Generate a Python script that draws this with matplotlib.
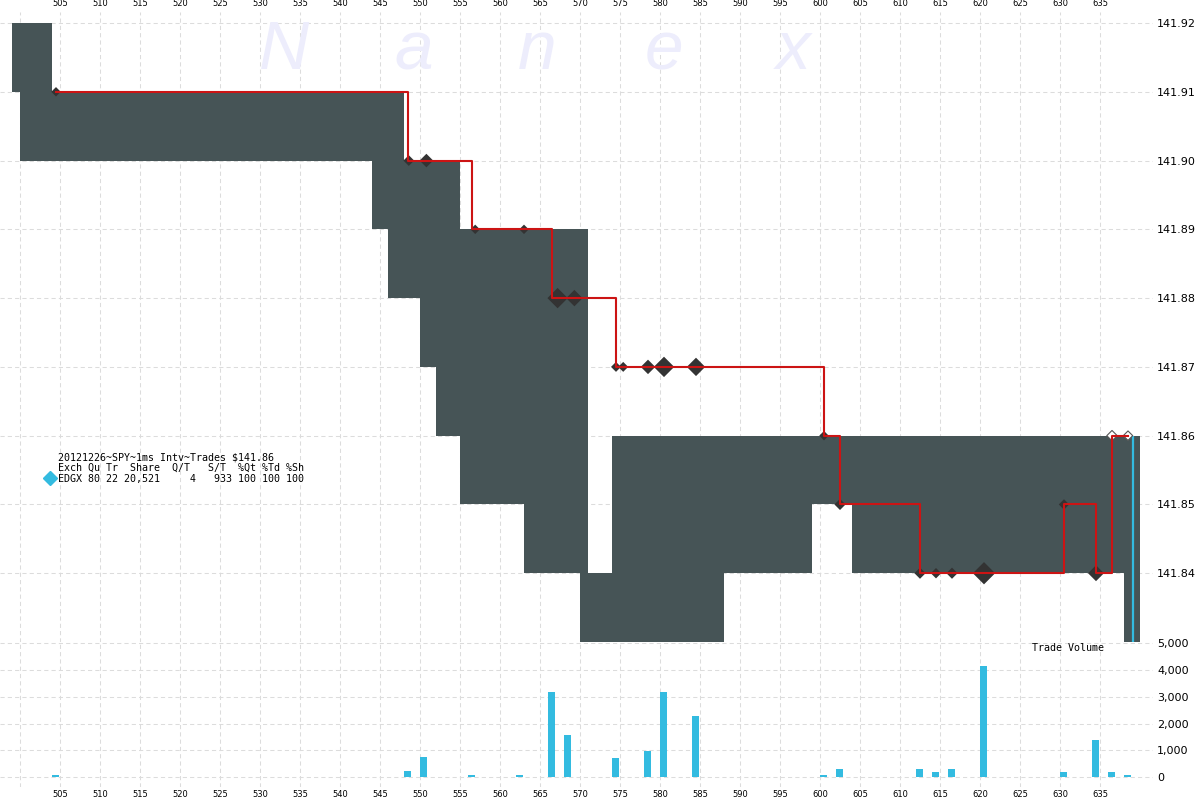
import matplotlib
matplotlib.use("Agg")
import matplotlib.pyplot as plt
import numpy as np

# ---- data ----
# quote band (time ms, low, high) step-post
band_t = [499, 500, 504, 544, 546, 548, 550, 552, 555, 563, 570, 571, 574, 588, 599, 604, 638, 640]
band_lo = [141.91, 141.90, 141.90, 141.89, 141.88, 141.88, 141.87, 141.86, 141.85, 141.84,
           141.83, 141.83, 141.83, 141.84, 141.85, 141.84, 141.83, 141.83]
band_hi = [141.92, 141.92, 141.91, 141.91, 141.91, 141.90, 141.90, 141.90, 141.89, 141.89,
           141.89, 141.84, 141.86, 141.86, 141.86, 141.86, 141.86, 141.86]

# trades per ms bucket
vol_t = [504, 548, 550, 556, 562, 566, 568, 574, 578, 580, 584, 600, 602, 612, 614, 616, 620, 630, 634, 636, 638]
vol_sh = [100, 240, 760, 100, 100, 3180, 1580, 720, 980, 3180, 2290, 100, 300, 300, 200, 300, 4150, 200, 1400, 200, 100]
trade_px = [141.91, 141.90, 141.90, 141.89, 141.89, 141.88, 141.88, 141.87, 141.87, 141.87, 141.87,
            141.86, 141.85, 141.84, 141.84, 141.84, 141.84, 141.85, 141.84, 141.86, 141.86]

# individual trade markers
mk_t = [504.5, 548.6, 550.8, 556.9, 563.0, 567.2, 569.3, 574.5, 575.4, 578.5, 580.5, 584.5,
        600.5, 602.5, 612.5, 614.5, 616.5, 620.5, 630.5, 634.5, 636.5, 638.5]
mk_px = [141.91, 141.90, 141.90, 141.89, 141.89, 141.88, 141.88, 141.87, 141.87, 141.87, 141.87, 141.87,
         141.86, 141.85, 141.84, 141.84, 141.84, 141.84, 141.85, 141.84, 141.86, 141.86]
mk_sh = [100, 240, 760, 100, 100, 3180, 1580, 150, 150, 980, 3180, 2290,
         100, 300, 300, 200, 300, 4150, 200, 1400, 200, 100]

edgx_quote_t = 639.1
edgx_quote_lo, edgx_quote_hi = 141.83, 141.86

price_ticks = [141.84, 141.85, 141.86, 141.87, 141.88, 141.89, 141.90, 141.91, 141.92]
vol_ticks = [0, 1000, 2000, 3000, 4000, 5000]
x_ticks = list(range(500, 640, 5))

legend_lines = ["20121226~SPY~1ms Intv~Trades \\$141.86",
                "Exch Qu Tr  Share  Q/T   S/T  %Qt %Td %Sh",
                "EDGX 80 22 20,521     4   933 100 100 100"]

# ---- style ----
BAND = "#465456"
RED = "#cc1414"
CYAN = "#33bbe0"
GRID = "#dcdcdc"
MK = "#333333"

W, H = 1200, 800
fig = plt.figure(figsize=(12, 8), dpi=100)
fig.patch.set_facecolor("white")

xl = (497.5, 641.625)
axp = fig.add_axes([0, (H - 642) / H, 1153 / W, 630 / H])
axv = fig.add_axes([0, (H - 787) / H, 1153 / W, 145 / H])

ppu = 619 / 0.09
axp.set_xlim(*xl)
axp.set_ylim(141.83, 141.92 + 11 / ppu)
vpu = (777.3 - 643) / 5000
axv.set_xlim(*xl)
axv.set_ylim(-(787 - 777.3) / vpu, 5000 + 1 / vpu)

grid_kw = dict(color=GRID, linewidth=0.75, linestyle=(0, (4, 3)), zorder=0)
for ax in (axp, axv):
    ax.set_facecolor("none")
    for s in ax.spines.values():
        s.set_visible(False)
    ax.set_xticks(x_ticks)
    ax.grid(True, **grid_kw)
    ax.set_axisbelow(True)

# watermark
for ch, xp in zip("Nanex", [284, 414, 537, 664, 793]):
    fig.text(xp / W, 1 - 51 / H, ch, fontsize=50, style="italic", family="Liberation Sans",
             color="#ededfc", ha="center", va="center", zorder=0)

# price panel
axp.fill_between(band_t, band_lo, band_hi, step="post", color=BAND, linewidth=0, zorder=2)
axp.plot([edgx_quote_t, edgx_quote_t], [edgx_quote_lo, edgx_quote_hi], color=CYAN, lw=1.6, zorder=3,
         solid_capstyle="butt")
sizes = [1.18 * (6 + 0.2 * np.sqrt(s)) / 1.964 for s in mk_sh]
n = len(mk_t)
faces = [MK if i < n - 2 else "white" for i in range(n)]
edges = [MK if i < n - 2 else "#555555" for i in range(n)]
axp.scatter(mk_t, mk_px, s=np.array(sizes) ** 2, marker="D", c=faces, edgecolors=edges,
            linewidths=[0 if i < n - 2 else 0.8 for i in range(n)], zorder=4)
axp.step(np.array(vol_t) + 0.45, trade_px, where="post", color=RED, lw=1.5, zorder=5)

axp.set_yticks(price_ticks)
axp.set_yticklabels([f"{v:.2f}" for v in price_ticks])
axp.yaxis.tick_right()
axp.xaxis.tick_top()
axp.set_xticklabels(["" if v == 500 else str(v) for v in x_ticks])
axp.tick_params(axis="y", length=0, pad=3, labelsize=8)
axp.tick_params(axis="x", length=0, pad=3, labelsize=6)

# volume panel
axv.bar(vol_t, vol_sh, width=0.875, align="edge", color=CYAN, linewidth=0, zorder=2)
axv.set_yticks(vol_ticks)
axv.set_yticklabels([f"{v:,}" for v in vol_ticks])
axv.yaxis.tick_right()
axv.set_xticklabels(["" if v == 500 else str(v) for v in x_ticks])
axv.tick_params(axis="y", length=0, pad=3, labelsize=8)
axv.tick_params(axis="x", length=0, pad=2, labelsize=6)

fig.text(1032 / W, 1 - 648 / H, "Trade Volume", family="DejaVu Sans Mono", fontsize=7.2,
         ha="left", va="center")

for i, line in enumerate(legend_lines):
    fig.text(58 / W, 1 - (457 + 11 * i) / H, line, family="DejaVu Sans Mono", fontsize=7.2,
             ha="left", va="center")
fig.add_artist(plt.Line2D([50 / W], [1 - 478 / H], marker="D", markersize=14 / 1.964,
                          color=CYAN, linestyle="none", transform=fig.transFigure))

fig.savefig("out.png", dpi=100)
